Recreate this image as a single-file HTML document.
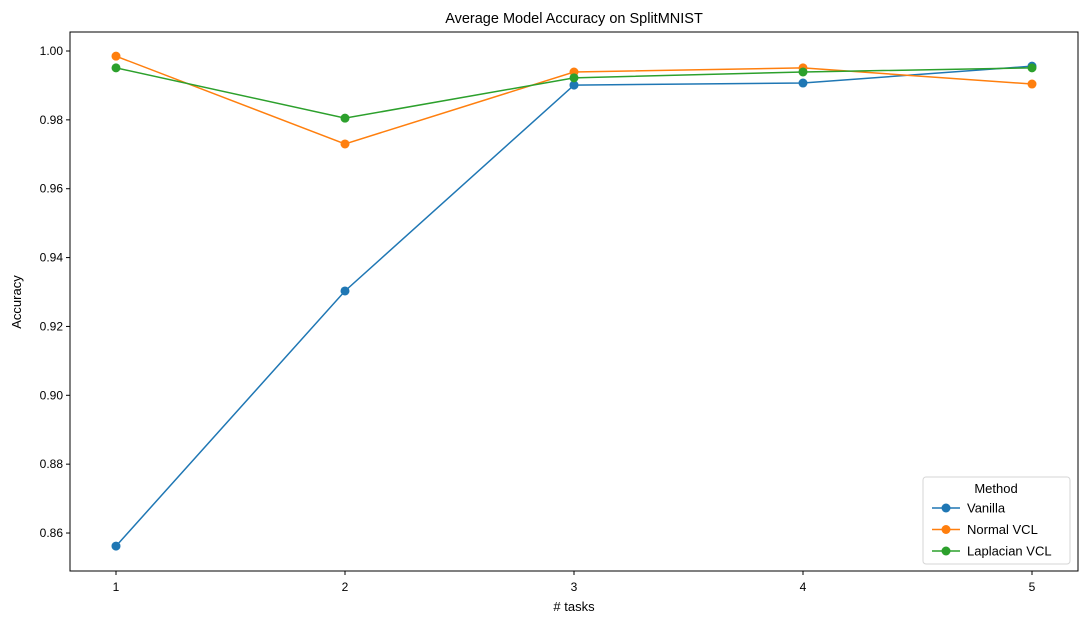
<!DOCTYPE html>
<html><head><meta charset="utf-8"><style>
body{margin:0;background:#fff;}
svg{display:block;font-family:"Liberation Sans","DejaVu Sans",sans-serif;}
</style></head><body>
<svg id="chart" width="1087" height="624">
<rect width="1087" height="624" fill="#fff"/>
<text x="574" y="23" font-size="14.5" text-anchor="middle">Average Model Accuracy on SplitMNIST</text>
<g id="axes"></g>
<g id="series"></g>
<rect x="70" y="32" width="1008" height="539" fill="none" stroke="#000" stroke-width="1"/>
<text x="574" y="611" font-size="13" text-anchor="middle"># tasks</text>
<text x="21" y="302" font-size="13" text-anchor="middle" transform="rotate(-90 21 302)">Accuracy</text>
<g id="legend">
<rect x="923" y="477" width="147" height="87" rx="3" fill="#fff" stroke="#ccc" stroke-opacity="0.8"/>
<text x="996" y="493" font-size="13" text-anchor="middle">Method</text>
</g>
</svg>
<script>
const categories=[1,2,3,4,5];
const seriesNames=["Vanilla","Normal VCL","Laplacian VCL"];
const vanilla=[0.8562,0.9303,0.9901,0.9907,0.9956];
const normalVCL=[0.9985,0.9730,0.9939,0.9951,0.9904];
const laplacianVCL=[0.9951,0.9805,0.9922,0.9939,0.9951];
const yTicks=[0.86,0.88,0.90,0.92,0.94,0.96,0.98,1.00];
const colors=["#1f77b4","#ff7f0e","#2ca02c"];
const NS="http://www.w3.org/2000/svg";
const X=v=>116+(v-1)*229;
const Y=v=>51+(1-v)*3443;
function mk(t,a,p){const e=document.createElementNS(NS,t);for(const k in a)e.setAttribute(k,a[k]);p.appendChild(e);return e;}
const axes=document.getElementById('axes');
categories.forEach(c=>{
 const l=mk('line',{x1:X(c),x2:X(c),y1:571,y2:575,stroke:'#000'},axes);
 
 
 const t=mk('text',{x:X(c),y:591,'font-size':12,'text-anchor':'middle'},axes);t.textContent=c;
 
 
});
yTicks.forEach(v=>{
 const l=mk('line',{x1:66,x2:70,y1:Y(v),y2:Y(v),stroke:'#000'},axes);
 
 
 const t=mk('text',{x:63,y:Y(v)+4,'font-size':12,'text-anchor':'end'},axes);t.textContent=v.toFixed(2);
 
 
});
const sg=document.getElementById('series');
[vanilla,normalVCL,laplacianVCL].forEach((s,i)=>{
 const g=mk('g',{},sg);
 
 
 mk('polyline',{points:s.map((v,j)=>X(categories[j])+','+Y(v)).join(' '),fill:'none',stroke:colors[i],'stroke-width':1.5},g);
 s.forEach((v,j)=>{const c=mk('circle',{cx:X(categories[j]),cy:Y(v),r:4.5,fill:colors[i]},g);
  
  });
});
const lg=document.getElementById('legend');
seriesNames.forEach((n,i)=>{
 const y=508+i*21.5;
 const g=mk('g',{},lg);
 
 
 mk('line',{x1:932,x2:960,y1:y,y2:y,stroke:colors[i],'stroke-width':1.5},g);
 mk('circle',{cx:946,cy:y,r:4.5,fill:colors[i]},g);
 const t=mk('text',{x:967,y:y+4.5,'font-size':13},g);t.textContent=n;
});
</script>
</body></html>
